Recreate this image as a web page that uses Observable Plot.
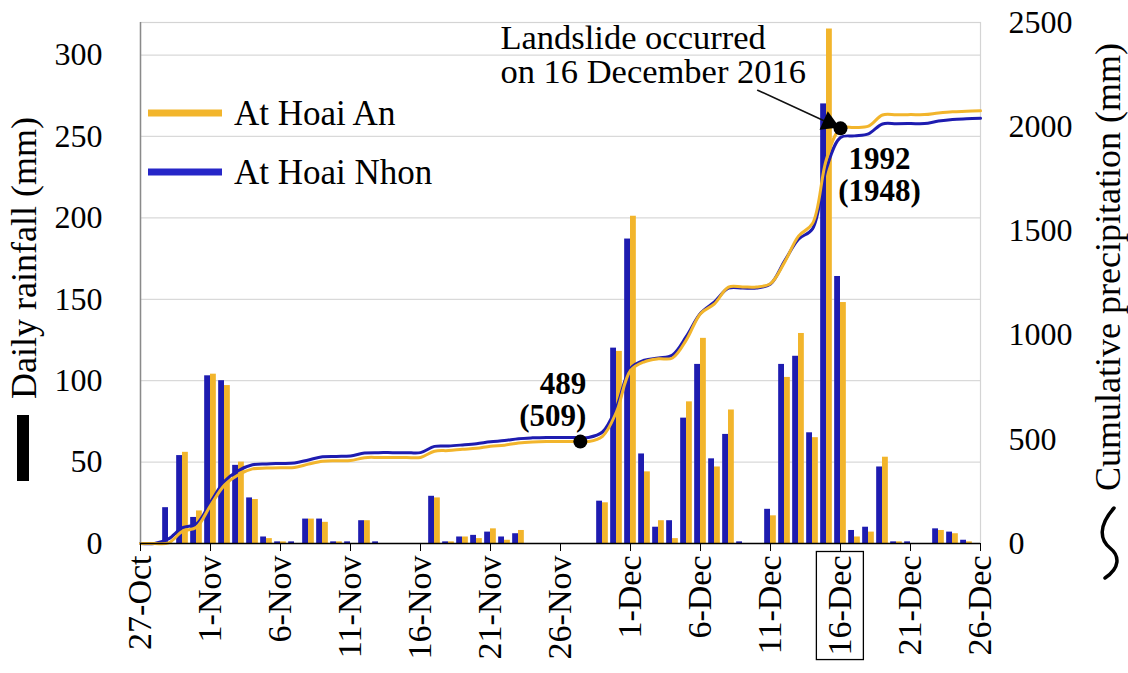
<!DOCTYPE html>
<html>
<head>
<meta charset="utf-8">
<script src="https://cdn.jsdelivr.net/npm/d3@7"></script>
<script src="https://cdn.jsdelivr.net/npm/@observablehq/plot@0.6"></script>
<style>
  html, body { margin: 0; padding: 0; background: #fff; }
  #chart { width: 1128px; height: 673px; }
  #chart svg { display: block; font-family: "Liberation Serif", "Times New Roman", Tinos; }
  #chart svg text { font-family: "Liberation Serif", "Times New Roman", Tinos; }
</style>
</head>
<body>
<div id="chart"></div>
<script>
// Daily rainfall and cumulative precipitation, 27 Oct – 26 Dec 2016
const firstDay = "2016-10-27";
const dayCount = 61;

// Daily rainfall (mm) at Hoai Nhon (blue) and Hoai An (orange)
const hoaiNhonDaily = [0,0,22,54,16,103,100,48,28,4,1,1,15,15,1,1,14,1,0,0,0,29,1,4,5,7,4,6,0,0,0,0,0,26,120,187,55,10,14,77,110,52,67,1,0,21,110,115,68,270,164,8,10,47,1,1,0,9,7,2,0];
const hoaiAnDaily   = [0,0,0,56,20,104,97,50,27,3,1,0,15,13,1,0,14,0,0,0,0,28,1,4,3,9,2,8,0,0,0,0,0,25,118,201,44,14,3,87,126,47,82,0,0,17,102,129,65,316,148,4,7,53,1,0,0,8,6,1,0];

// Cumulative precipitation (mm)
const hoaiNhonCum = [0,0,22,76,94,198,298,350,378,382,384,386,401,416,418,420,434,436,436,436,436,466,468,473,479,488,494,503,507,509,509,509,509,535,655,840,880,890,905,995,1105,1160,1225,1226,1226,1245,1355,1460,1510,1800,1948,1956,1966,2013,2014,2015,2015,2027,2035,2038,2040];
const hoaiAnCum   = [0,0,3,58,78,182,280,330,358,362,364,365,381,395,397,398,412,413,413,413,413,443,446,452,457,467,472,482,487,489,489,489,489,514,632,830,872,886,890,978,1103,1150,1230,1231,1231,1247,1349,1475,1535,1845,1992,1996,2003,2056,2057,2058,2058,2066,2072,2074,2076];

// Axis ticks
const dailyTicks = [0, 50, 100, 150, 200, 250, 300];
const cumTicks = [0, 500, 1000, 1500, 2000, 2500];
const dailyMax = 320;
const cumMax = 2500;

// Highlighted points on the cumulative curves
const markerDates = ["2016-11-27T10:00Z", "2016-12-16T00:00Z"];
const markerValues = [489, 1992];
const markerLabels = ["489\n(509)", "1992\n(1948)"];

const noteText = "Landslide occurred\non 16 December 2016";
const noteDate = "2016-11-21T17:00Z";
const arrowFrom = {date: "2016-12-10T02:00Z", value: 2175};

const seriesNames = ["At Hoai An", "At Hoai Nhon"];
const anColor = "#F2B52C";
const nhonColor = "#1E1CB0";

// ---- build tables ----
const start = new Date(firstDay + "T00:00Z");
const days = d3.range(dayCount).map(i => d3.utcDay.offset(start, i));
const end = days[days.length - 1];
const k = dailyMax / cumMax; // cumulative units -> daily-axis units

const rows = days.map((date, i) => ({
  date,
  nhon: hoaiNhonDaily[i],
  an: hoaiAnDaily[i],
  nhonCum: hoaiNhonCum[i] * k,
  anCum: hoaiAnCum[i] * k
}));
const markers = markerDates.map((d, i) => ({date: new Date(d), value: markerValues[i] * k, label: markerLabels[i]}));
const tickDates = days.filter((d, i) => i % 5 === 0);
const fmtDay = d3.utcFormat("%-d-%b");

const half = 10; // bar width in hours

const plot = Plot.plot({
  width: 1128,
  height: 673,
  marginLeft: 140,
  marginRight: 148,
  marginTop: 22,
  marginBottom: 130,
  style: {color: "#000", background: "transparent", overflow: "visible"},
  x: {type: "utc", domain: [start, end]},
  y: {domain: [0, dailyMax]},
  marks: [
    Plot.ruleY(dailyTicks.slice(1), {stroke: "#d9d9d9", strokeWidth: 1.2}),
    Plot.frame({stroke: "#d4d4d4", strokeWidth: 1.2}),
    Plot.rectY(rows, {
      x1: d => d3.utcHour.offset(d.date, -half), x2: "date", y: "nhon", fill: nhonColor
    }),
    Plot.rectY(rows, {
      x1: "date", x2: d => d3.utcHour.offset(d.date, half), y: "an", fill: anColor
    }),
    Plot.line(rows, {x: "date", y: "nhonCum", stroke: nhonColor, strokeWidth: 3, curve: "catmull-rom"}),
    Plot.line(rows, {x: "date", y: "anCum", stroke: anColor, strokeWidth: 3, curve: "catmull-rom"}),
    Plot.ruleX([start], {stroke: "#8a8a8a", strokeWidth: 1.5}),
    Plot.ruleY([0], {stroke: "#000", strokeWidth: 1.5}),
    Plot.axisY(dailyTicks, {anchor: "left", tickSize: 0, tickPadding: 38, fontSize: 32, label: null}),
    Plot.axisY(cumTicks.map(v => v * k), {
      anchor: "right", tickSize: 0, tickPadding: 28, fontSize: 32, label: null,
      tickFormat: v => String(Math.round(v / k))
    }),
    Plot.axisX(tickDates, {
      tickSize: 8, tickPadding: 4, tickRotate: -90, fontSize: 34, label: null,
      tickFormat: fmtDay, stroke: "#000"
    }),
    // annotation arrow pointing at the landslide day
    Plot.arrow([{x1: new Date(arrowFrom.date), y1: arrowFrom.value * k, x2: markers[1].date, y2: markers[1].value}], {
      x1: "x1", y1: "y1", x2: "x2", y2: "y2", stroke: "#111", strokeWidth: 1.6, headLength: 0, insetEnd: 14
    }),
    Plot.dot([markers[1]], {
      x: "date", y: "value", symbol: "triangle", r: 7.5, fill: "#000",
      dx: -11.5, dy: -5.5, rotate: 114
    }),
    Plot.dot(markers, {x: "date", y: "value", r: 7, fill: "#000"}),
    Plot.text([markers[0]], {
      x: "date", y: "value", text: "label", textAnchor: "end", lineAnchor: "bottom",
      dx: 6, dy: -16, fontSize: 31, fontWeight: "bold", lineHeight: 1.03, fill: "#000"
    }),
    Plot.text([markers[1]], {
      x: "date", y: "value", text: "label", textAnchor: "middle", lineAnchor: "top",
      dx: 39, dy: 18, fontSize: 31, fontWeight: "bold", lineHeight: 1.03, fill: "#000"
    }),
    Plot.text([noteText], {
      x: () => new Date(noteDate), frameAnchor: "top", text: d => d, textAnchor: "start",
      lineAnchor: "top", dy: 2, fontSize: 34.5, lineHeight: 1.0, fill: "#000"
    })
  ]
});

document.getElementById("chart").appendChild(plot);

// ---- titles, legend and decorations ----
const svg = d3.select(plot);
const g = svg.append("g").attr("fill", "#000").attr("text-anchor", "start");

g.append("text")
  .attr("transform", "translate(36,258) rotate(-90)")
  .attr("text-anchor", "middle")
  .attr("font-size", 36)
  .text("Daily rainfall (mm)");
g.append("rect").attr("x", 17).attr("y", 415).attr("width", 12).attr("height", 66).attr("fill", "#000");

g.append("text")
  .attr("transform", "translate(1120,267) rotate(-90)")
  .attr("text-anchor", "middle")
  .attr("font-size", 36)
  .text("Cumulative precipitation (mm)");
g.append("path")
  .attr("d", "M1114,508 C1098,526 1100,540 1110,548 C1120,556 1120,568 1105,578")
  .attr("fill", "none").attr("stroke", "#000").attr("stroke-width", 3.5).attr("stroke-linecap", "round");

// legend for the cumulative curves
const legendItems = [
  {name: seriesNames[0], color: anColor, y: 113},
  {name: seriesNames[1], color: "#2626C8", y: 172}
];
legendItems.forEach(item => {
  g.append("line").attr("x1", 148).attr("x2", 222).attr("y1", item.y).attr("y2", item.y)
    .attr("stroke", item.color).attr("stroke-width", 7);
  g.append("text").attr("x", 234).attr("y", item.y).attr("dy", "0.35em")
    .attr("text-anchor", "start")
    .attr("font-size", 35).text(item.name);
});

// box around the landslide date on the x axis
const svgBox = plot.getBoundingClientRect();
svg.selectAll("text").filter(function () { return this.textContent === "16-Dec"; }).each(function () {
  const b = this.getBoundingClientRect();
  g.append("rect")
    .attr("x", b.left - svgBox.left - 5).attr("y", b.top - svgBox.top - 4)
    .attr("width", b.width + 10).attr("height", b.height + 8)
    .attr("fill", "none").attr("stroke", "#000").attr("stroke-width", 1.3);
});
</script>
</body>
</html>
